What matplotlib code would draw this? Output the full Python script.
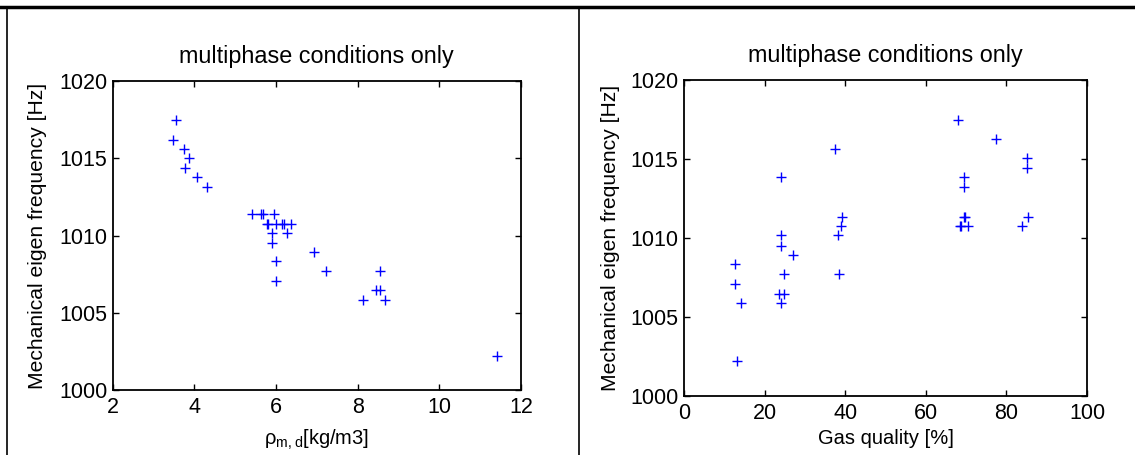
import numpy as np
import matplotlib
matplotlib.use("Agg")
import matplotlib.pyplot as plt
from matplotlib.lines import Line2D

plt.rcParams['font.family'] = ['Liberation Sans', 'DejaVu Sans']
plt.rcParams['mathtext.fontset'] = 'custom'
plt.rcParams['mathtext.rm'] = 'Liberation Sans'
plt.rcParams['font.size'] = 14.5

# ----- data -----
# left panel: density vs eigen frequency
rho = [3.54, 3.48, 3.75, 3.87, 3.76, 4.06, 4.30,
       5.42, 5.63, 5.68, 5.94,
       5.78, 5.81, 5.99, 6.15, 6.19, 6.36,
       5.90, 6.26, 5.90, 6.94, 6.01, 7.23, 8.54, 6.01,
       8.46, 8.54, 8.12, 8.67, 11.41]
freq_rho = [1017.45, 1016.20, 1015.63, 1015.00, 1014.40, 1013.80, 1013.15,
            1011.37, 1011.37, 1011.37, 1011.37,
            1010.75, 1010.75, 1010.75, 1010.75, 1010.75, 1010.75,
            1010.15, 1010.15, 1009.52, 1008.92, 1008.32, 1007.68, 1007.68, 1007.08,
            1006.47, 1006.47, 1005.83, 1005.83, 1002.20]

# right panel: gas quality vs eigen frequency
gas_q = [67.9, 77.4, 37.6, 85.0, 85.0, 24.0, 69.5, 69.5,
         39.2, 69.6, 69.8, 85.4,
         38.9, 68.4, 68.8, 70.5, 83.9,
         38.2, 24.0, 24.0, 27.1, 12.6, 24.8, 38.5, 12.6,
         23.5, 24.7, 14.2, 24.0, 13.2]
freq_gas = [1017.45, 1016.27, 1015.65, 1015.04, 1014.43, 1013.84, 1013.84, 1013.23,
            1011.35, 1011.35, 1011.35, 1011.35,
            1010.78, 1010.78, 1010.78, 1010.78, 1010.78,
            1010.20, 1010.20, 1009.51, 1008.94, 1008.33, 1007.70, 1007.70, 1007.07,
            1006.47, 1006.47, 1005.87, 1005.87, 1002.20]

title = "multiphase conditions only"
ylab = "Mechanical eigen frequency [Hz]"

fig = plt.figure(figsize=(11.35, 4.55), dpi=100)

ax1 = fig.add_axes([0.0993, 0.1429, 0.3597, 0.679])
ax2 = fig.add_axes([0.6026, 0.1297, 0.3551, 0.6945])


def style(ax, label_x):
    ax.tick_params(direction='in', length=4, width=1, top=True, right=True,
                   labelsize=15.5)
    ax.tick_params(axis='x', pad=5)
    ax.tick_params(axis='y', pad=4)
    for s in ax.spines.values():
        s.set_linewidth(1.3)
    ax.set_ylim(1000, 1020)
    ax.set_yticks([1000, 1005, 1010, 1015, 1020])
    ax.set_title(title, pad=13, fontsize=16.8)
    ax.set_ylabel(ylab, fontsize=15.2)
    ax.yaxis.set_label_coords(label_x, 0.5)


ax1.plot(rho, freq_rho, '+', color='#0000ff', markersize=6.5, markeredgewidth=1.0)
ax1.set_xlim(2, 12)
ax1.set_xticks([2, 4, 6, 8, 10, 12])
ax1.set_xlabel(r'ρ$_{\rm m,d}$[kg/m3]', labelpad=7)
style(ax1, -0.161)

ax2.plot(gas_q, freq_gas, '+', color='#0000ff', markersize=6.5, markeredgewidth=1.0)
ax2.set_xlim(0, 100)
ax2.set_xticks([0, 20, 40, 60, 80, 100])
ax2.set_xlabel('Gas quality [%]', labelpad=4)
style(ax2, -0.159)

# table-like frame around the two panels
fig.add_artist(Line2D([0, 1], [1 - 7 / 455, 1 - 7 / 455], color='black', lw=2.5))
fig.add_artist(Line2D([7 / 1135, 7 / 1135], [0, 1 - 7 / 455], color='black', lw=1.2))
fig.add_artist(Line2D([579 / 1135, 579 / 1135], [0, 1 - 7 / 455], color='black', lw=1.2))

fig.savefig("out.png", dpi=100)
